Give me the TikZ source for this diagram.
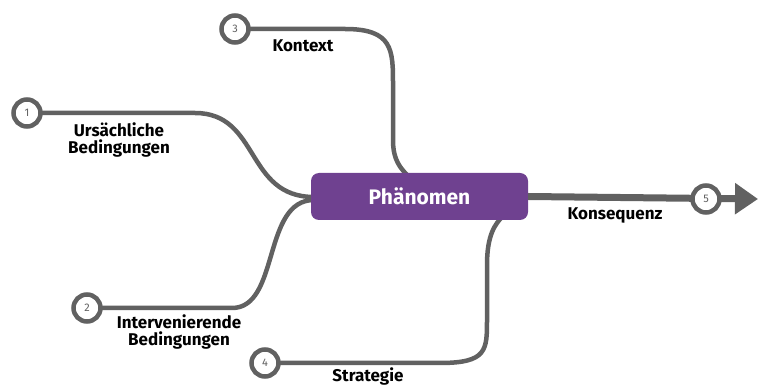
\documentclass[tikz,border=0pt]{standalone}
\usepackage{fontspec}
\setmainfont{Fira Sans}
\usetikzlibrary{arrows.meta}
\definecolor{linegray}{HTML}{616161}
\definecolor{phpurple}{HTML}{6F4190}
\tikzset{
  conn/.style={draw=linegray, line width=4.5pt, line cap=round},
  numcirc/.style={circle, draw=linegray, line width=4.5pt, fill=white, minimum size=27pt, inner sep=0pt, text=linegray, font=\fontsize{11}{12}\selectfont},
  lbl/.style={font=\fontsize{17}{16.5}\selectfont\bfseries, align=center, text=black, inner sep=0pt},
  phbox/.style={fill=phpurple, rounded corners=8pt, minimum width=217pt, minimum height=47pt, text=white, font=\fontsize{21}{22}\selectfont\bfseries}
}
\begin{document}
\begin{tikzpicture}[x=1pt,y=-1pt]
\useasboundingbox (0,0) rectangle (758,387);
% nodes
\node[numcirc] (c1) at (27,113) {1};
\node[numcirc] (c2) at (87,308) {2};
\node[numcirc] (c3) at (235,29) {3};
\node[numcirc] (c4) at (265,363) {4};
\coordinate (k1) at (195,113);
\coordinate (k2) at (232,308);
\coordinate (k3) at (345,29);
\coordinate (k4) at (440,363);
\coordinate (tip) at (758,199);
\coordinate (p1) at (314,197);
\coordinate (p2) at (314,200);
\coordinate (p3) at (410,178);
\coordinate (p4) at (503,216);
% connectors
\draw[conn] (c1) -- (k1) .. controls (260,113) and (245,197) .. (p1);
\draw[conn] (c2) -- (k2) .. controls (280,308) and (262,200) .. (p2);
\draw[conn] (c3) -- (k3) .. controls (393,29) and (393,50) .. (393,85) -- (393,140) .. controls (393,160) and (400,168) .. (p3);
\draw[conn] (c4) -- (k4) .. controls (487,363) and (487,350) .. (487,320) -- (487,265) .. controls (487,235) and (495,224) .. (p4);
\node[phbox] (ph) at (419.5,196.5) {Phänomen};
\draw[draw=linegray, line width=7pt, -{Triangle[length=23pt,width=30pt]}] (ph.east) -- (tip);
\node[numcirc] (c5) at (706,199) {5};
% labels
\node[lbl] (l1) at (119,140) {Ursächliche\\Bedingungen};
\node[lbl] (l3) at (303,46) {Kontext};
\node[lbl] (l2) at (179,332) {Intervenierende\\Bedingungen};
\node[lbl] (l4) at (368,376.5) {Strategie};
\node[lbl] (l5) at (615,215) {Konsequenz};
\end{tikzpicture}
\end{document}
